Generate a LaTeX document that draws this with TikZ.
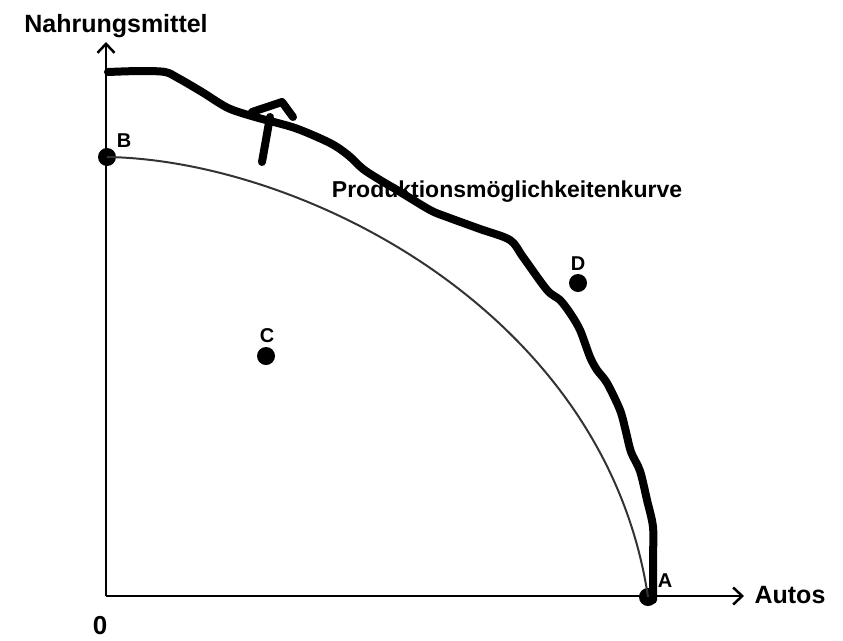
\documentclass[tikz,border=0pt]{standalone}
\usepackage{fontspec}
\setsansfont{Liberation Sans}
\usetikzlibrary{arrows.meta}

\begin{document}
\begin{tikzpicture}[
		x=1pt, y=-1pt,
		>={Straight Barb[length=9pt, width=17pt]},
		font=\sffamily\bfseries,
		axis/.style={line width=2.5pt, ->},
		dot/.style={circle, fill=black, inner sep=0pt, minimum size=18pt},
		pmkline/.style={line width=2pt, black!80},
		freehand/.style={line width=8pt, line cap=round, line join=round},
		axislabel/.style={anchor=base, inner sep=0pt, font=\sffamily\bfseries\fontsize{25}{30}\selectfont},
		ptlabel/.style={anchor=base, inner sep=0pt, font=\sffamily\bfseries\fontsize{20}{24}\selectfont}
		]
		\useasboundingbox (0,0) rectangle (843,640);
		
		% =========================================================
		% 1. Axes
		% =========================================================
		\coordinate (O) at (106,596);
		\coordinate (ytip) at (106,42);
		\coordinate (xtip) at (744,596);
		\draw[axis] (O) -- (ytip);
		\draw[axis] (O) -- (xtip);
		
		\node[axislabel] (ylab) at (116,32) {Nahrungsmittel};
		\node[axislabel] (xlab) at (790,603) {Autos};
		\node[axislabel, font=\sffamily\bfseries\fontsize{26}{30}\selectfont] (zero) at (100,634) {0};
		
		% =========================================================
		% 2. Points and the curve
		% =========================================================
		\node[dot] (B) at (107,157) {};
		\node[dot] (A) at (648,597) {};
		\node[dot] (C) at (266,356) {};
		\node[dot] (D) at (578,283) {};
		
		\node[ptlabel] (Blab) at (124,147) {B};
		\node[ptlabel] (Clab) at (267,342) {C};
		\node[ptlabel] (Dlab) at (578,270) {D};
		\node[ptlabel] (Alab) at (665,587) {A};
		
		\draw[pmkline] (B.center) .. controls (300,160) and (605,310) .. (A.center);
		
		\node[axislabel, font=\sffamily\bfseries\fontsize{23}{28}\selectfont] (pmk) at (507,197) {Produktionsmöglichkeitenkurve};
		
		% =========================================================
		% 3. Hand-drawn shift
		% =========================================================
		\draw[freehand] plot[smooth, tension=0.5] coordinates {
			(108,72) (140,71) (165,72) (178,78) (202,92) (228,108) (255,117)
			(295,128) (330,143) (348,155) (363,169) (380,180) (397,190) (430,210)
			(447,217) (480,229) (510,240) (523,257) (547,290) (560,300) (570,313)
			(580,330) (590,357) (597,370) (607,383) (620,410) (626,432) (631,452)
			(640,471) (647,500) (653,527) (653,560) (653,600)};
		
		\draw[freehand] (262,162) -- (270,117);
		\draw[freehand] (252,112) -- (282,102) -- (293,117);
	\end{tikzpicture}
\end{document}
